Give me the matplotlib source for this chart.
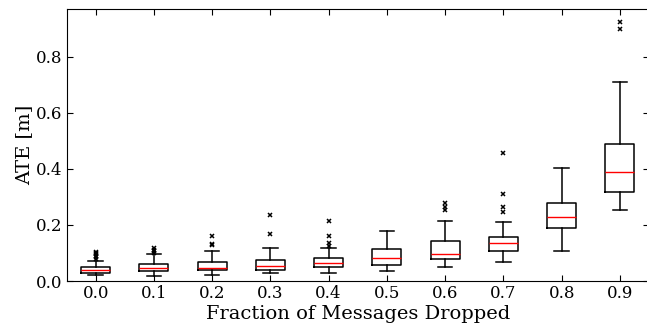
import matplotlib
matplotlib.use("Agg")
import matplotlib.pyplot as plt

plt.rcParams['font.family'] = ['DejaVu Serif']

labels = ['0.0', '0.1', '0.2', '0.3', '0.4', '0.5', '0.6', '0.7', '0.8', '0.9']
whislo = [0.020, 0.018, 0.023, 0.027, 0.030, 0.035, 0.049, 0.068, 0.106, 0.255]
q1     = [0.027, 0.035, 0.038, 0.039, 0.051, 0.057, 0.080, 0.108, 0.188, 0.319]
med    = [0.039, 0.046, 0.048, 0.055, 0.063, 0.081, 0.096, 0.137, 0.229, 0.389]
q3     = [0.049, 0.061, 0.068, 0.074, 0.081, 0.113, 0.142, 0.158, 0.277, 0.488]
whishi = [0.073, 0.095, 0.106, 0.118, 0.117, 0.180, 0.214, 0.212, 0.402, 0.710]
fliers = [
    [0.078, 0.084, 0.090, 0.095, 0.100, 0.104],
    [0.100, 0.106, 0.112, 0.118],
    [0.127, 0.131, 0.161],
    [0.167, 0.235],
    [0.126, 0.137, 0.162, 0.215],
    [],
    [0.254, 0.265, 0.277],
    [0.248, 0.265, 0.310, 0.458],
    [],
    [0.901, 0.926],
]

stats = []
for i in range(len(labels)):
    stats.append({'label': labels[i], 'whislo': whislo[i], 'q1': q1[i], 'med': med[i],
                  'q3': q3[i], 'whishi': whishi[i], 'fliers': fliers[i]})

fig = plt.figure(figsize=(6.47, 3.26), dpi=100)
ax = fig.add_axes([66.5 / 647, 45 / 326, (649 - 66.5) / 647, (281 - 9) / 326])

ax.bxp(stats, widths=0.5,
       boxprops=dict(color='black', linewidth=1.1),
       whiskerprops=dict(color='black', linewidth=1.1, linestyle='-'),
       capprops=dict(color='black', linewidth=1.1),
       medianprops=dict(color='red', linewidth=1.0),
       flierprops=dict(marker='x', markersize=3, markeredgecolor='black', markeredgewidth=1.1))

ax.set_xlim(0.5, 10.5)
ax.set_ylim(0, 0.971)
ax.set_yticks([0.0, 0.2, 0.4, 0.6, 0.8])
ax.tick_params(direction='in', top=True, right=True, labelsize=12, length=4, pad=3)
ax.set_xlabel('Fraction of Messages Dropped', fontsize=14, labelpad=2)
ax.set_ylabel('ATE [m]', fontsize=14, labelpad=2)

fig.savefig('out.png', dpi=100)
